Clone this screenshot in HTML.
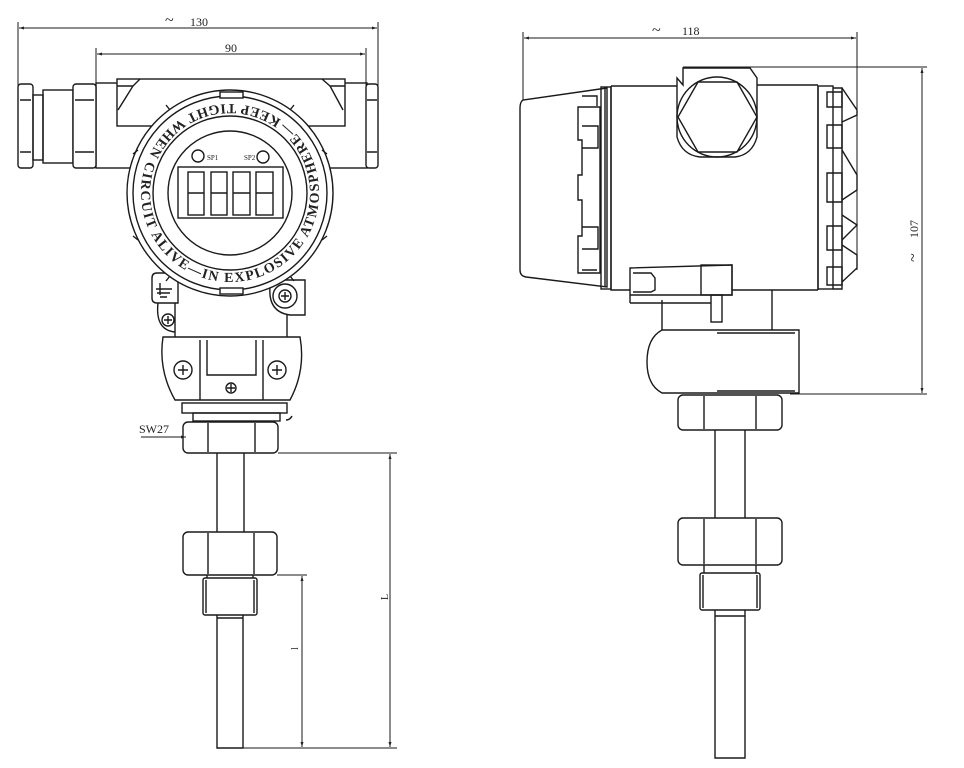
<!DOCTYPE html>
<html><head><meta charset="utf-8"><style>
html,body{margin:0;padding:0;background:#fff;}
svg{display:block}
text{font-family:"Liberation Serif",serif;fill:#222}
</style></head><body>
<svg width="964" height="768" viewBox="0 0 964 768" xmlns="http://www.w3.org/2000/svg">
<defs>
<marker id="ar" viewBox="0 0 10 10" refX="10" refY="5" markerWidth="7" markerHeight="5" orient="auto-start-reverse"><path d="M0,2 L10,5 L0,8 z" fill="#222"/></marker>
<path id="ring" d="M230,193 m-89,0 a89,89 0 1,0 178,0 a89,89 0 1,0 -178,0"/>
</defs>
<g fill="none" stroke="#1a1a1a" stroke-width="1.4">
<line x1="18" y1="22" x2="18" y2="86" stroke-width="1"/>
<line x1="378" y1="22" x2="378" y2="86" stroke-width="1"/>
<line x1="19" y1="28" x2="377" y2="28" stroke-width="1" marker-start="url(#ar)" marker-end="url(#ar)"/>
<line x1="96" y1="48" x2="96" y2="86" stroke-width="1"/>
<line x1="366" y1="48" x2="366" y2="86" stroke-width="1"/>
<line x1="97" y1="54" x2="365" y2="54" stroke-width="1" marker-start="url(#ar)" marker-end="url(#ar)"/>
<rect x="96" y="83" width="271" height="85"/>
<rect x="117" y="79" width="228" height="47" fill="#fff"/>
<path d="M117,86 H133 L118,110 M345,86 H330 L343,110 M133,86 L140,79 M330,86 L322,79"/>
<rect x="18" y="84" width="15" height="84" rx="3" fill="#fff"/>
<path d="M20,100 H31 M20,152 H31"/>
<rect x="33" y="95" width="10" height="65"/>
<rect x="43" y="90" width="30" height="73"/>
<rect x="73" y="84" width="23" height="84" rx="3" fill="#fff"/>
<path d="M75,100 H94 M75,152 H94"/>
<rect x="366" y="84" width="12" height="84" rx="3" fill="#fff"/>
<path d="M367,100 H377 M367,152 H377"/>
<path d="M175,287 V337 M287,287 V337"/>
<path d="M163,337 Q158,370 175,400 H290 Q306,370 300,337 Z" fill="#fff"/>
<path d="M200,340 V400 M263,340 V400 M207,340 V375 H256 V340"/>
<rect x="182" y="403" width="105" height="10"/>
<rect x="193" y="413" width="87" height="8"/>
<path d="M286,420 q4,0 6,-4"/>
<circle cx="183" cy="370" r="9"/><path d="M178,370 H188 M183,365 V375"/>
<circle cx="277" cy="370" r="9"/><path d="M272,370 H282 M277,365 V375"/>
<circle cx="231" cy="388" r="5"/><path d="M227,388 H235 M231,384 V392"/>
<path d="M152,278 Q152,273 157,273 H178 V303 H157 Q152,303 152,298 Z" fill="#fff"/>
<path d="M160,295 V283 M156,289 H172 M157,293 H170 M160,297 H167"/>
<path d="M158,303 Q155,330 175,332" />
<circle cx="168" cy="320" r="6"/><path d="M164,320 H172 M168,316 V324"/>
<path d="M270,287 Q268,312 290,315 H305 V280 H280" fill="#fff"/>
<circle cx="285" cy="296" r="12"/><circle cx="285" cy="296" r="6"/><path d="M281,296 H289 M285,292 V300"/>
<circle cx="230" cy="193" r="103" fill="#fff"/>
<circle cx="230" cy="193" r="97"/>
<circle cx="230" cy="193" r="77"/>
<circle cx="230" cy="193" r="62"/>
<rect x="220" y="92" width="23" height="6" fill="#fff"/>
<rect x="220" y="288" width="23" height="6" fill="#fff"/>
<path d="M138,150 l-5,4 M322,150 l5,4 M138,240 l-5,-4 M322,240 l5,-4 M170,110 l-4,-5 M290,110 l4,-5 M170,276 l-4,5 M290,276 l4,5"/>
<circle cx="198" cy="156" r="6"/><circle cx="263" cy="157" r="6"/>
<rect x="178" y="167" width="105" height="51"/>
<rect x="188" y="172" width="16" height="43"/><rect x="211" y="172" width="16" height="43"/>
<rect x="233" y="172" width="17" height="43"/><rect x="256" y="172" width="17" height="43"/>
<path d="M188,193 H204 M211,193 H227 M233,193 H250 M256,193 H273"/>
<rect x="183" y="422" width="95" height="31" rx="5" fill="#fff"/>
<path d="M208,423 V452 M255,423 V452"/>
<path d="M141,437 H186" stroke-width="1" marker-end="url(#ar)"/>
<path d="M217,453 V532 M244,453 V532"/>
<rect x="183" y="532" width="94" height="43" rx="5" fill="#fff"/>
<path d="M208,533 V574 M254,533 V574"/>
<rect x="203" y="578" width="54" height="37" rx="2"/>
<path d="M206,580 V613 M254,580 V613 M207,575 V578 M253,575 V578"/>
<path d="M217,615 V748 H243 V615 M217,618 H243"/>
<path d="M278,453 H397 M243,748 H397 M277,575 H307" stroke-width="1"/>
<line x1="390" y1="454" x2="390" y2="747" stroke-width="1" marker-start="url(#ar)" marker-end="url(#ar)"/>
<line x1="302" y1="576" x2="302" y2="747" stroke-width="1" marker-start="url(#ar)" marker-end="url(#ar)"/>

<line x1="523" y1="32" x2="523" y2="100" stroke-width="1"/>
<line x1="857" y1="32" x2="857" y2="270" stroke-width="1"/>
<line x1="524" y1="38" x2="856" y2="38" stroke-width="1" marker-start="url(#ar)" marker-end="url(#ar)"/>
<path d="M683,67 H927 M790,394 H927" stroke-width="1"/>
<line x1="922" y1="68" x2="922" y2="393" stroke-width="1" marker-start="url(#ar)" marker-end="url(#ar)"/>
<path d="M611,86 H683 M757,85 H818 M611,86 V290 H772 V330 M662,300 V330 M772,290 H818"/>
<path d="M818,86 V290"/>
<path d="M683,85 L677,78 V137 Q682,155 700,157 H735 Q752,155 757,137 V78 L750,68 H683 Z" fill="#fff"/>
<circle cx="717" cy="117" r="40"/>
<path d="M698,82 H737 L757,117 L737,152 H698 L678,117 Z"/>
<path d="M607,88 L523,100 Q520,102 520,108 V270 Q520,276 526,277 L607,287 Z" fill="#fff"/>
<path d="M578,107 H600 V273 H578 V236 H582 V200 H578 V175 H582 V140 H578 Z"/>
<path d="M582,126 H598 V148 H582 M582,227 H598 V249 H582 M582,96 H597 V106 M582,270 H597"/>
<rect x="601" y="87" width="10" height="202"/>
<path d="M605,89 V287"/>
<rect x="818" y="86" width="15" height="203"/>
<path d="M833,88 H842 V289 H833"/>
<path d="M827,92 H842 V107 H827 Z M827,125 H842 V148 H827 Z M827,173 H842 V202 H827 Z M827,226 H842 V250 H827 Z M827,267 H842 V285 H827 Z"/>
<path d="M842,88 L857,110 V115 L842,122 M842,150 L857,175 V190 L842,200 M842,215 L857,225 L842,240 M842,245 L857,255 V268 L842,282"/>
<path d="M630,268 L732,265 V295 H630 Z M630,303 H711 M630,268 V303" fill="#fff"/>
<rect x="701" y="265" width="31" height="30"/>
<path d="M633,273 H651 L655,278 V290 L651,292 H633"/>
<rect x="711" y="295" width="11" height="27"/>
<path d="M662,330 H799 V393 H662 Q647,385 647,362 Q647,338 662,330 Z" fill="#fff"/>
<path d="M717,333 H795 M717,391 H795"/>
<rect x="678" y="395" width="104" height="35" rx="5" fill="#fff"/>
<path d="M704,396 V429 M756,396 V429"/>
<path d="M715,430 V518 M745,430 V518"/>
<rect x="678" y="518" width="104" height="47" rx="5" fill="#fff"/>
<path d="M704,519 V564 M756,519 V564"/>
<rect x="700" y="573" width="60" height="37" rx="2"/>
<path d="M703,575 V608 M757,575 V608 M704,565 V573 M756,565 V573"/>
<path d="M715,610 V758 H745 V610 M715,616 H745"/>
</g>
<text font-family="Liberation Sans,sans-serif" font-size="14" font-weight="bold" letter-spacing="1.5" fill="#222" transform="rotate(125 230 193)"><textPath href="#ring">KEEP TIGHT WHEN CIRCUIT ALIVE—IN EXPLOSIVE ATMOSPHERE—</textPath></text>
<text x="165" y="25" font-size="16">~</text><text x="190" y="26" font-size="12">130</text>
<text x="225" y="52" font-size="12">90</text>
<text x="207" y="160" font-size="7" font-family="Liberation Sans,sans-serif">SP1</text>
<text x="244" y="160" font-size="7" font-family="Liberation Sans,sans-serif">SP2</text>
<text x="139" y="433" font-size="12">SW27</text>
<text x="0" y="0" font-size="10" transform="translate(388,600) rotate(-90)">L</text>
<text x="0" y="0" font-size="10" transform="translate(298,650) rotate(-90)">l</text>
<text x="652" y="35" font-size="16">~</text><text x="682" y="35" font-size="12">118</text>
<text x="0" y="0" font-size="12" transform="translate(918,238) rotate(-90)">107</text>
<text x="0" y="0" font-size="16" transform="translate(918,262) rotate(-90)">~</text>
</svg>
</body></html>
